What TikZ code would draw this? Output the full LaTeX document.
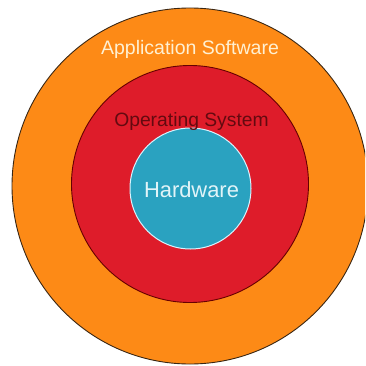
\documentclass[tikz,border=0pt]{standalone}
\usepackage{fontspec}
\setmainfont{Liberation Sans}
\usepackage{tikz}
\usetikzlibrary{backgrounds}

\definecolor{apporange}{RGB}{253,138,22}
\definecolor{osred}{RGB}{222,28,42}
\definecolor{hwblue}{RGB}{42,162,192}
\definecolor{apptext}{RGB}{255,240,210}
\definecolor{ostext}{RGB}{100,10,16}
\definecolor{hwtext}{RGB}{225,244,248}

\tikzset{
  layer/.style={circle, inner sep=0pt},
  label text/.style={anchor=base, inner sep=0pt}
}

\begin{document}
\begin{tikzpicture}[x=1pt,y=-1pt]
   \useasboundingbox (0,0) rectangle (365,366);
   \clip (0,0) rectangle (365,366);
     \draw (190,186) node[layer, fill=apporange, draw=black!70!brown, line width=0.9pt, minimum size=356pt] (app) {};
     \draw (190,184) node[layer, fill=osred, draw=black!60!red, line width=0.9pt, minimum size=237pt] (os) {};
     \draw (190.5,188.5) node[layer, fill=hwblue, draw=white!85!cyan, line width=1pt, minimum size=121pt] (hw) {};

   \draw (190,55) node[label text, text=apptext, font=\fontsize{19.5}{20}\selectfont] (apptitle) {Application Software};
   \draw (191.5,127) node[label text, text=ostext, font=\fontsize{19.3}{20}\selectfont] (ostitle) {Operating System};
   \draw (191.5,197) node[label text, text=hwtext, font=\fontsize{21.9}{22}\selectfont] (hwtitle) {Hardware};
\end{tikzpicture}
\end{document}
